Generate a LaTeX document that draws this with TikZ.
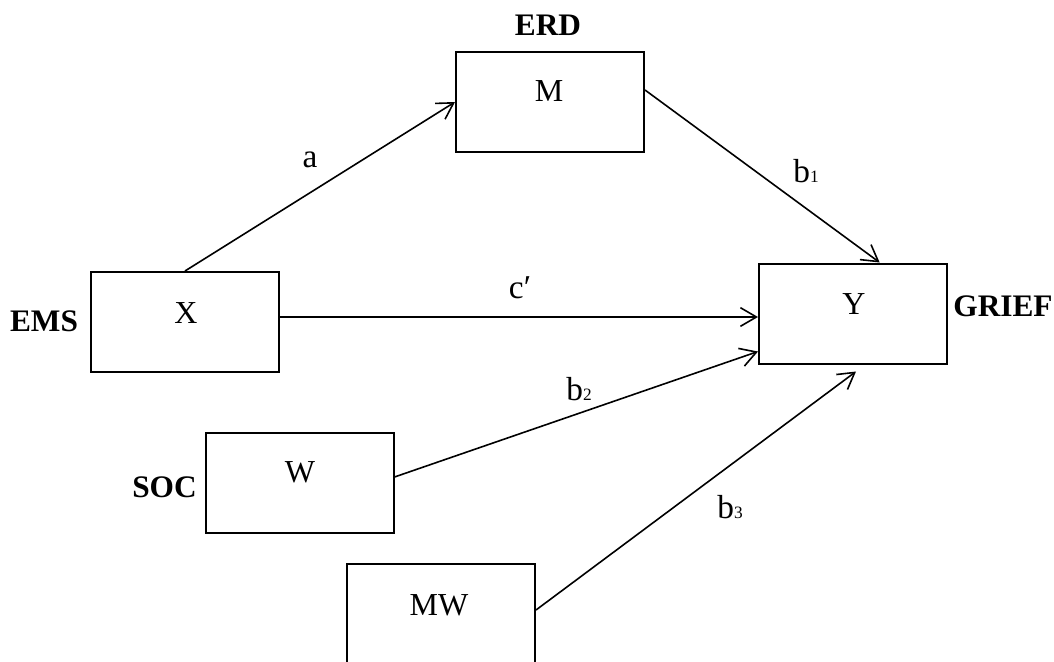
\documentclass[tikz,border=0pt]{standalone}
\usepackage{fontspec}
\setmainfont{Liberation Serif}
\usetikzlibrary{arrows.meta}
\newcommand\subdigit[1]{{\fontsize{13}{13}\selectfont #1}}
\begin{document}
\begin{tikzpicture}[x=0.75pt,y=-0.75pt,
  box/.style={draw, line width=1.5pt, minimum width=141pt, minimum height=75pt, inner sep=0pt},
  vname/.style={font=\fontsize{24}{24}\selectfont, inner sep=0pt},
  cname/.style={font=\fontsize{23.5}{23.5}\selectfont\bfseries, inner sep=0pt},
  plab/.style={font=\fontsize{25}{25}\selectfont, inner sep=0pt},
  arr/.style={line width=1.2pt, -{Straight Barb[length=12pt,width=14pt,line width=1.2pt]}}
]
\clip (0,0) rectangle (1054,661);
% boxes
\node[box] (m) at (550,102) {};
\node[box] (x) at (185,322) {};
\node[box] (y) at (853,313.5) {};
\node[box] (w) at (299.5,483) {};
\node[box] (mw) at (441,614) {};
% variable letters
\node[vname] (mt) at (549,91) {M};
\node[vname] (xt) at (186,313) {X};
\node[vname] (yt) at (854,304) {Y};
\node[vname] (wt) at (300,472) {W};
\node[vname] (mwt) at (439,605) {MW};
% construct names
\node[cname] (erd) at (548,25) {ERD};
\node[cname] (ems) at (44,321) {EMS};
\node[cname] (grief) at (1003,306) {GRIEF};
\node[cname, anchor=east] (soc) at (197,487) {SOC};
% connectors
\draw[arr] (x.north) -- (m.west);
\draw[arr] ([yshift=9pt]m.east) -- ([xshift=20pt]y.north);
\draw[arr] ([yshift=3.75pt]x.east) -- ([yshift=3.75pt]x.east -| y.west);
\draw[arr] ([yshift=4.5pt]w.east) -- ([yshift=9.75pt]y.south west);
\draw[arr] ([yshift=3pt]mw.east) -- ([xshift=2.25pt,yshift=-5.25pt]y.south);
% path labels
\node[plab] (la) at (310,160) {a};
\node[plab] (lb1) at (806,171) {b\subdigit{1}};
\node[plab] (lc) at (520,288) {c′};
\node[plab] (lb2) at (579,389) {b\subdigit{2}};
\node[plab] (lb3) at (730,507) {b\subdigit{3}};
\end{tikzpicture}
\end{document}
